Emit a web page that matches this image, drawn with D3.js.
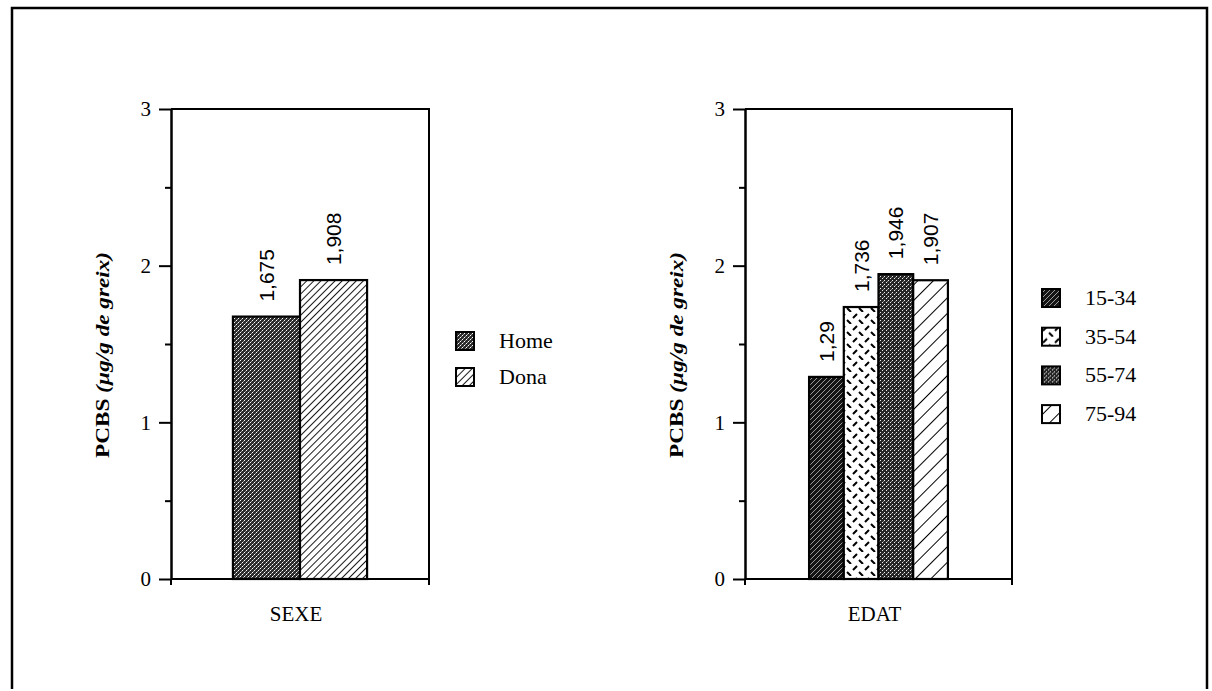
<html>
<head>
<script src="https://d3js.org/d3.v7.min.js"></script>
<style>
  body { margin: 0; background: #fff; }
  text { fill: #000; }
</style>
</head>
<body>
<script>

// data
var sexCats = ["Home", "Dona"];
var sexVals = [1.675, 1.908];
var sexLabels = ["1,675", "1,908"];

var ageCats = ["15-34", "35-54", "55-74", "75-94"];
var ageVals = [1.29, 1.736, 1.946, 1.907];
var ageLabels = ["1,29", "1,736", "1,946", "1,907"];

var majorTicks = [0, 1, 2, 3];
var minorTicks = [0.5, 1.5, 2.5];
var yTitle = "PCBS (µg/g de greix)";

var W = 1212, H = 691;

var svg = d3.select("body").append("svg")
            .attr("width", W)
            .attr("height", H);

// hatch / texture patterns
var defs = svg.append("defs");

function texture(id, base, dots) {
  var p = defs.append("pattern").attr("id", id)
     .attr("width", 4).attr("height", 4)
     .attr("patternUnits", "userSpaceOnUse");
  p.append("rect").attr("width", 4).attr("height", 4).attr("fill", base);
  dots.forEach(function(d) {
    p.append("rect").attr("x", d[0]).attr("y", d[1])
     .attr("width", 1).attr("height", 1).attr("fill", d[2]);
  });
}
texture("pHome", "#2c2c2c", [[0,0,"#fff"],[2,2,"#fff"],[1,3,"#999"],[3,1,"#999"]]);
texture("p5574", "#262626", [[0,0,"#eee"],[2,2,"#eee"],[3,1,"#888"]]);

function hatch(id, size, sw, color, bg) {
  var p = defs.append("pattern").attr("id", id)
     .attr("width", size).attr("height", size)
     .attr("patternUnits", "userSpaceOnUse")
     .attr("patternTransform", "rotate(45)");
  p.append("rect").attr("width", size).attr("height", size).attr("fill", bg);
  p.append("line").attr("x1", 0).attr("y1", 0).attr("x2", 0).attr("y2", size)
   .attr("stroke", color).attr("stroke-width", sw);
}
hatch("pDona", 5, 1.8, "#000", "#fff");
hatch("p7594", 11, 2, "#000", "#fff");

var p1534 = defs.append("pattern").attr("id", "p1534")
   .attr("width", 5).attr("height", 5)
   .attr("patternUnits", "userSpaceOnUse");
p1534.append("rect").attr("width", 5).attr("height", 5).attr("fill", "#141414");
[[4,0],[3,1],[2,2],[1,3],[0,4]].forEach(function(d) {
  p1534.append("rect").attr("x", d[0]).attr("y", d[1]).attr("width", 1).attr("height", 1)
       .attr("fill", "#9a9a9a");
});

var p3554 = defs.append("pattern").attr("id", "p3554")
   .attr("width", 12).attr("height", 12)
   .attr("patternUnits", "userSpaceOnUse");
p3554.append("rect").attr("width", 12).attr("height", 12).attr("fill", "#fff");
p3554.append("path").attr("d", "M1,6 L5,2 M7,8 L11,12")
     .attr("stroke", "#000").attr("stroke-width", 2).attr("fill", "none");

// outer frame (bottom edge runs off the page)
svg.append("path")
   .attr("d", "M12,689 L12,8 L1207,8 L1207,689")
   .attr("fill", "none").attr("stroke", "#000").attr("stroke-width", 2.5);

var y = d3.scaleLinear().domain([0, 3]).range([579, 109]);

function panel(opt) {
  var g = svg.append("g");
  var w = opt.x1 - opt.x0;
  var x = d3.scaleBand()
            .domain(opt.cats)
            .range([opt.x0 + 0.24 * w, opt.x1 - 0.24 * w]);

  // bars
  g.selectAll("rect.bar")
   .data(opt.vals)
   .enter().append("rect")
   .attr("class", "bar")
   .attr("x", function(d, i) { return x(opt.cats[i]); })
   .attr("width", x.bandwidth())
   .attr("y", function(d) { return y(d); })
   .attr("height", function(d) { return y(0) - y(d); })
   .attr("fill", function(d, i) { return "url(#" + opt.fills[i] + ")"; })
   .attr("stroke", "#000").attr("stroke-width", 2.2);

  // value labels, rotated
  g.selectAll("text.val")
   .data(opt.vals)
   .enter().append("text")
   .attr("class", "val")
   .attr("transform", function(d, i) {
      return "translate(" + (x(opt.cats[i]) + x.bandwidth() / 2) + "," + (y(d) - 15) + ") rotate(-90)";
   })
   .attr("dy", "0.36em")
   .style("font-family", "'Liberation Sans', Arial, sans-serif")
   .style("font-size", "21px")
   .text(function(d, i) { return opt.labels[i]; });

  // y axis: major and minor ticks
  var major = g.append("g")
     .attr("transform", "translate(" + opt.x0 + ",0)")
     .call(d3.axisLeft(y).tickValues(majorTicks).tickSize(12).tickSizeOuter(0).tickPadding(8)
           .tickFormat(d3.format("d")));
  major.selectAll("text")
     .style("font-family", "'Liberation Serif', 'Times New Roman', serif")
     .style("font-size", "21px");
  var minor = g.append("g")
     .attr("transform", "translate(" + opt.x0 + ",0)")
     .call(d3.axisLeft(y).tickValues(minorTicks).tickSize(6).tickSizeOuter(0).tickFormat(""));
  g.selectAll(".domain, .tick line").attr("stroke", "#000").attr("stroke-width", 2);

  // frame of the plot
  g.append("path")
   .attr("d", "M" + opt.x0 + "," + y(3) + " H" + opt.x1 + " V" + (y(0) + 6) +
              " M" + opt.x0 + "," + y(0) + " H" + opt.x1 +
              " M" + opt.x0 + "," + y(0) + " V" + (y(0) + 6))
   .attr("fill", "none").attr("stroke", "#000").attr("stroke-width", 2);

  // axis titles
  g.append("text")
   .attr("x", (opt.x0 + opt.x1) / 2 - 4)
   .attr("y", 621)
   .attr("text-anchor", "middle")
   .style("font-family", "'Liberation Serif', 'Times New Roman', serif")
   .style("font-size", "21px")
   .text(opt.xTitle);

  var t = g.append("text")
   .attr("transform", "translate(" + (opt.x0 - 62) + "," + 355 + ") rotate(-90)")
   .attr("text-anchor", "middle")
   .attr("textLength", 206)
   .attr("lengthAdjust", "spacingAndGlyphs")
   .style("font-family", "'Liberation Serif', 'Times New Roman', serif")
   .style("font-weight", "bold")
   .style("font-size", "19px");
  t.append("tspan").text(yTitle.split(" (")[0] + " ");
  t.append("tspan").style("font-style", "italic").text("(" + yTitle.split(" (")[1]);

  // legend
  var leg = g.selectAll("g.leg")
     .data(opt.cats)
     .enter().append("g")
     .attr("class", "leg")
     .attr("transform", function(d, i) {
        return "translate(" + opt.legX + "," + (opt.legY + i * opt.legStep) + ")";
     });
  leg.append("rect")
     .attr("x", 0).attr("y", -9).attr("width", 18).attr("height", 18)
     .attr("fill", function(d, i) { return "url(#" + opt.fills[i] + ")"; })
     .attr("stroke", "#000").attr("stroke-width", 2);
  leg.append("text")
     .attr("x", 43).attr("y", 7)
     .style("font-family", "'Liberation Serif', 'Times New Roman', serif")
     .style("font-size", "22px")
     .text(function(d) { return d; });
}

panel({
  cats: sexCats, vals: sexVals, labels: sexLabels,
  fills: ["pHome", "pDona"],
  x0: 171, x1: 429, xTitle: "SEXE",
  legX: 456, legY: 341, legStep: 36
});

panel({
  cats: ageCats, vals: ageVals, labels: ageLabels,
  fills: ["p1534", "p3554", "p5574", "p7594"],
  x0: 745, x1: 1012, xTitle: "EDAT",
  legX: 1042, legY: 298, legStep: 38.7
});

</script>
</body>
</html>
